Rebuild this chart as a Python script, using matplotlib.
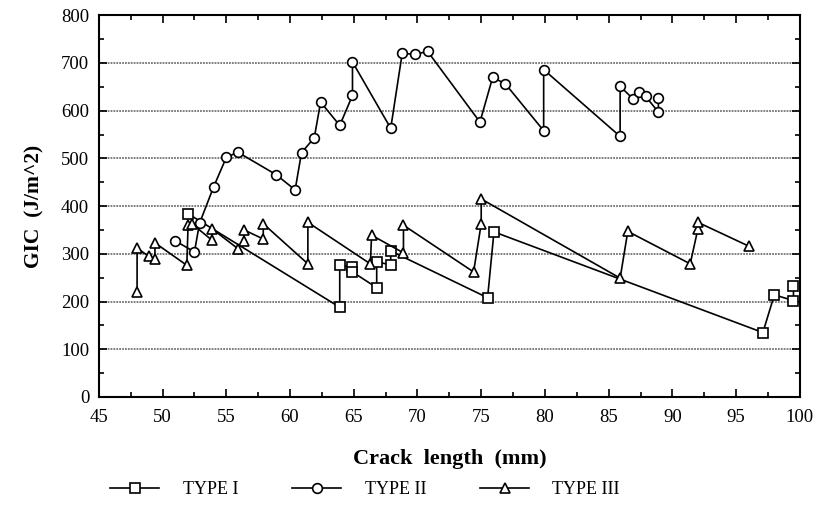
import numpy as np
import matplotlib
matplotlib.use('Agg')
import matplotlib.pyplot as plt
from matplotlib.ticker import MultipleLocator

# Type I (squares)
x_type1 = [52.0, 63.9, 63.9, 64.9, 64.9, 66.8, 66.8, 67.9, 67.9, 75.5, 76.0,
           97.1, 98.0, 99.5, 99.5]
y_type1 = [384, 188, 276, 273, 262, 229, 283, 277, 306, 208, 346,
           135, 214, 202, 232]

# Type II (circles)
x_type2 = [51.0, 52.5, 52.9, 54.0, 55.0, 55.9, 58.9, 60.4, 60.9, 61.9, 62.4,
           63.9, 64.9, 64.9, 67.9, 68.8, 69.8, 70.8, 74.9, 75.9, 76.9, 79.9,
           79.9, 85.9, 85.9, 86.9, 87.4, 87.9, 88.9, 88.9]
y_type2 = [327, 304, 364, 440, 502, 513, 466, 434, 512, 543, 618,
           569, 632, 702, 563, 720, 718, 724, 576, 670, 656, 558,
           686, 546, 651, 625, 639, 630, 597, 626]

# Type III (triangles)
x_type3 = [48.0, 48.0, 48.9, 49.4, 49.4, 51.9, 52.0, 52.3, 53.9, 53.9, 55.9,
           56.4, 56.4, 57.9, 57.9, 61.4, 61.4, 66.3, 66.4, 68.9, 68.9, 74.4,
           75.0, 75.0, 85.9, 86.5, 91.4, 92.0, 92.0, 96.0]
y_type3 = [220, 312, 295, 290, 323, 276, 360, 363, 328, 352, 311,
           326, 350, 331, 363, 279, 366, 279, 339, 302, 360, 262,
           363, 415, 249, 347, 279, 352, 366, 316]

plt.rcParams['font.family'] = ['Liberation Serif', 'DejaVu Serif']

fig = plt.figure(figsize=(8.17, 5.07), dpi=100)
ax = fig.add_axes([0.121, 0.217, 0.858, 0.753])

style = dict(color='black', lw=1.2, markerfacecolor='white',
             markeredgecolor='black', markeredgewidth=1.2, markersize=7)
ax.plot(x_type1, y_type1, marker='s', label='TYPE I', zorder=3, **style)
ax.plot(x_type2, y_type2, marker='o', label='TYPE II', zorder=3, **style)
ax.plot(x_type3, y_type3, marker='^', label='TYPE III', zorder=3, **style)

ax.set_xlim(45, 100)
ax.set_ylim(0, 800)
ax.xaxis.set_major_locator(MultipleLocator(5))
ax.xaxis.set_minor_locator(MultipleLocator(2.5))
ax.yaxis.set_major_locator(MultipleLocator(100))
ax.yaxis.set_minor_locator(MultipleLocator(50))
ax.tick_params(which='both', direction='in', top=True, right=True,
               labelsize=13.5, width=1.2)
ax.tick_params(which='major', length=6)
ax.tick_params(which='minor', length=3.5)
ax.tick_params(axis='x', which='major', pad=9)
ax.tick_params(axis='y', which='major', pad=7)

# horizontal grid (not at 0 and 800)
for g in range(100, 800, 100):
    ax.axhline(g, color='0.45', lw=1.3, linestyle=(0, (1, 0.6)), zorder=1)

for s in ax.spines.values():
    s.set_linewidth(1.5)

ax.set_xlabel('Crack  length  (mm)', fontsize=16, fontweight='bold', labelpad=16)
ax.set_ylabel('GIC  (J/m^2)', fontsize=15.5, fontweight='bold', labelpad=12)

leg = fig.legend(loc='lower center', bbox_to_anchor=(0.447, -0.015), ncol=3,
                 frameon=False, fontsize=13, handlelength=2.7,
                 columnspacing=3.0, handletextpad=1.3)

fig.savefig('out.png', dpi=100)
